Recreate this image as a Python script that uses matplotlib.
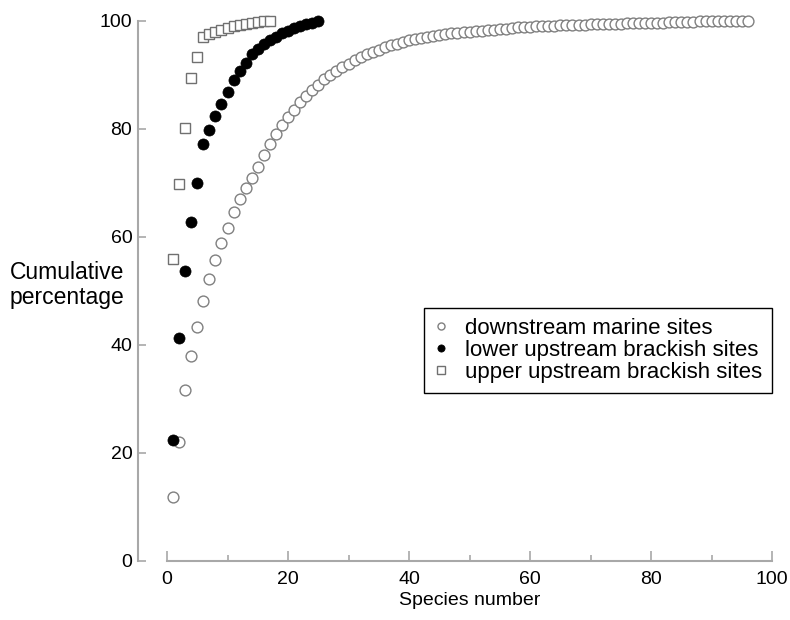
import matplotlib
matplotlib.use("Agg")
import matplotlib.pyplot as plt
from matplotlib.ticker import MultipleLocator

plt.rcParams['font.family'] = ['Liberation Sans', 'DejaVu Sans']

# cumulative percentage by species number
downstream = [11.9, 22.0, 31.7, 38.0, 43.3, 48.1, 52.2, 55.7, 58.8, 61.7,
              64.6, 67.0, 69.0, 71.0, 72.9, 75.2, 77.2, 79.0, 80.7, 82.3,
              83.6, 84.9, 86.1, 87.2, 88.2, 89.2, 90.0, 90.8, 91.5, 92.1,
              92.7, 93.3, 93.8, 94.3, 94.7, 95.1, 95.5, 95.8, 96.1, 96.4,
              96.6, 96.8, 97.0, 97.2, 97.4, 97.5, 97.7, 97.8, 97.9, 98.0,
              98.1, 98.2, 98.3, 98.4, 98.5, 98.6, 98.7, 98.8, 98.9, 98.9,
              99.0, 99.0, 99.1, 99.1, 99.2, 99.2, 99.3, 99.3, 99.3, 99.4,
              99.4, 99.4, 99.5, 99.5, 99.5, 99.6, 99.6, 99.6, 99.7, 99.7,
              99.7, 99.7, 99.8, 99.8, 99.8, 99.8, 99.8, 99.9, 99.9, 99.9,
              99.9, 99.9, 100.0, 100.0, 100.0, 100.0]
lower_brackish = [22.4, 41.2, 53.7, 62.8, 70.0, 77.2, 79.8, 82.4, 84.6, 86.8,
                  89.0, 90.8, 92.2, 93.8, 94.8, 95.7, 96.4, 97.1, 97.7, 98.2,
                  98.7, 99.1, 99.4, 99.7, 100.0]
upper_brackish = [56.0, 69.8, 80.1, 89.4, 93.4, 97.0, 97.6, 98.0, 98.4, 98.7,
                  99.0, 99.3, 99.5, 99.7, 99.8, 99.9, 100.0]
labels = ["downstream marine sites", "lower upstream brackish sites",
          "upper upstream brackish sites"]

fig = plt.figure(figsize=(7.9, 6.2), dpi=100)
ax = fig.add_axes([0.2114, 0.0952, 0.766, 0.871])

ax.plot(range(1, len(downstream) + 1), downstream, 'o', ms=7.8, mfc='white',
        mec='#808080', mew=1.0, clip_on=False, label=labels[0])
ax.plot(range(1, len(lower_brackish) + 1), lower_brackish, 'o', ms=8, mfc='black',
        mec='black', mew=0.5, clip_on=False, label=labels[1])
ax.plot(range(1, len(upper_brackish) + 1), upper_brackish, 's', ms=7.8, mfc='white',
        mec='#707070', mew=1.0, clip_on=False, label=labels[2])

ax.set_xlim(0, 100)
ax.set_ylim(0, 100)
for s in ['top', 'right']:
    ax.spines[s].set_visible(False)
for s in ['left', 'bottom']:
    ax.spines[s].set_color('#a8a8a8')
    ax.spines[s].set_linewidth(1.5)
ax.spines['left'].set_position(('outward', 21))

ax.xaxis.set_major_locator(MultipleLocator(20))
ax.xaxis.set_minor_locator(MultipleLocator(10))
ax.yaxis.set_major_locator(MultipleLocator(20))
ax.tick_params(axis='x', which='major', direction='in', length=7, width=1.2,
               color='#a8a8a8', labelsize=14, pad=7)
ax.tick_params(axis='x', which='minor', direction='in', length=4, width=1.2,
               color='#a8a8a8')
ax.tick_params(axis='y', which='major', direction='in', length=6, width=1.2,
               color='#a8a8a8', labelsize=14, pad=4)

ax.set_xlabel("Species number", fontsize=14, labelpad=3)
ax.set_ylabel("Cumulative\npercentage", fontsize=16.5, rotation=0,
              ha='center', va='center', linespacing=1.15)
ax.yaxis.set_label_coords(-0.165, 0.511)

leg = ax.legend(loc='lower right', bbox_to_anchor=(1.0, 0.311), borderaxespad=0,
                fontsize=16, markerscale=0.65, handletextpad=0.8,
                handlelength=0.6, labelspacing=0.05, fancybox=False,
                borderpad=0.45, framealpha=1)
leg.get_frame().set_edgecolor('black')
leg.get_frame().set_linewidth(1.0)

fig.savefig("out.png", dpi=100)
